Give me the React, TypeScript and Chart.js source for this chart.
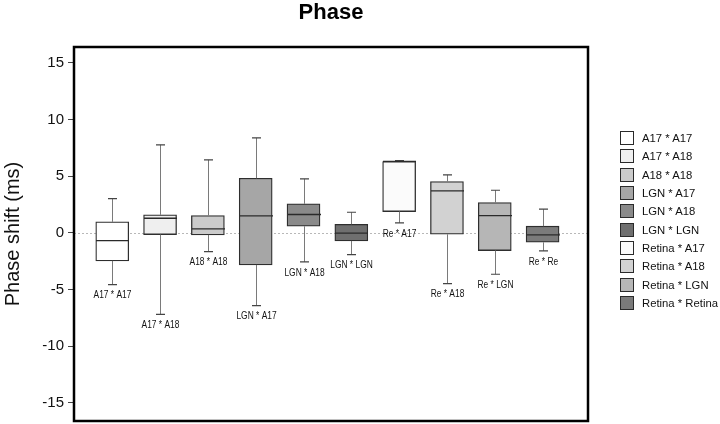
import React, { useEffect, useRef } from 'react';
import { Chart, registerables } from 'chart.js';

Chart.register(...registerables);

const legendLabels = ['A17 * A17', 'A17 * A18', 'A18 * A18', 'LGN * A17', 'LGN * A18', 'LGN * LGN', 'Retina * A17', 'Retina * A18', 'Retina * LGN', 'Retina * Retina'];
const boxLabels = ['A17 * A17', 'A17 * A18', 'A18 * A18', 'LGN * A17', 'LGN * A18', 'LGN * LGN', 'Re * A17', 'Re * A18', 'Re * LGN', 'Re * Re'];
const whiskerLow = [-4.56, -7.2, -1.65, -6.42, -2.56, -1.92, 0.88, -4.47, -3.65, -1.59];
const q1 = [-2.47, -0.15, -0.18, -2.83, 0.59, -0.71, 1.88, -0.12, -1.56, -0.83];
const median = [-0.68, 1.29, 0.35, 1.5, 1.62, -0.03, 6.3, 3.7, 1.53, -0.18];
const q3 = [0.97, 1.59, 1.53, 4.82, 2.56, 0.76, 6.3, 4.53, 2.67, 0.59];
const whiskerHigh = [3.03, 7.77, 6.44, 8.38, 4.76, 1.82, 6.38, 5.12, 3.76, 2.09];
const yTicks = [-15, -10, -5, 0, 5, 10, 15];
const fills = ['#ffffff', '#efefef', '#cbcbcb', '#a6a6a6', '#8a8a8a', '#6f6f6f', '#fbfbfb', '#d2d2d2', '#b6b6b6', '#7b7b7b'];

const FONT = '"Liberation Sans", Arial, Helvetica, sans-serif';

const boxPlugin = {
  id: 'boxExtras',
  beforeDatasetsDraw(chart: any) {
    const { ctx, chartArea, scales } = chart;
    const y0 = scales.y.getPixelForValue(0);
    ctx.save();
    ctx.strokeStyle = '#b8b8b8';
    ctx.lineWidth = 1;
    ctx.setLineDash([2, 2]);
    ctx.beginPath();
    ctx.moveTo(chartArea.left, Math.round(y0) + 0.5);
    ctx.lineTo(chartArea.right, Math.round(y0) + 0.5);
    ctx.stroke();
    ctx.restore();
  },
  afterDatasetsDraw(chart: any) {
    const { ctx, scales } = chart;
    const xs = scales.x;
    const ys = scales.y;
    ctx.save();
    boxLabels.forEach((lab, i) => {
      const x = Math.round(xs.getPixelForValue(i)) + 0.5;
      const half = 16.5;
      const pHi = ys.getPixelForValue(whiskerHigh[i]);
      const pLo = ys.getPixelForValue(whiskerLow[i]);
      const pQ1 = ys.getPixelForValue(q1[i]);
      const pQ3 = ys.getPixelForValue(q3[i]);
      const pMed = ys.getPixelForValue(median[i]);
      ctx.strokeStyle = '#7a7a7a';
      ctx.lineWidth = 1;
      ctx.beginPath();
      ctx.moveTo(x, pQ3);
      ctx.lineTo(x, pHi);
      ctx.moveTo(x, pQ1);
      ctx.lineTo(x, pLo);
      ctx.stroke();
      ctx.strokeStyle = '#444';
      ctx.lineWidth = 1.2;
      ctx.beginPath();
      ctx.moveTo(x - 4.5, pHi);
      ctx.lineTo(x + 4.5, pHi);
      ctx.moveTo(x - 4.5, pLo);
      ctx.lineTo(x + 4.5, pLo);
      ctx.stroke();
      ctx.strokeStyle = '#2a2a2a';
      ctx.lineWidth = 1.3;
      ctx.beginPath();
      ctx.moveTo(x - half, pMed);
      ctx.lineTo(x + half, pMed);
      ctx.stroke();
      ctx.save();
      ctx.fillStyle = '#111';
      ctx.font = '10px ' + FONT;
      ctx.textAlign = 'center';
      ctx.textBaseline = 'top';
      ctx.translate(x, pLo + 6);
      ctx.scale(0.84, 1);
      ctx.fillText(lab, 0, 0);
      ctx.restore();
    });
    ctx.restore();
  },
  afterDraw(chart: any) {
    const { ctx, chartArea } = chart;
    ctx.save();
    ctx.strokeStyle = '#000';
    ctx.lineWidth = 2.5;
    ctx.strokeRect(chartArea.left, chartArea.top, chartArea.right - chartArea.left, chartArea.bottom - chartArea.top);
    ctx.restore();
  },
};

export default function App() {
  const ref = useRef<HTMLCanvasElement | null>(null);

  useEffect(() => {
    document.body.style.margin = '0';
    if (!ref.current) return;
    const chart = new Chart(ref.current, {
      type: 'bar',
      data: {
        datasets: [
          {
            data: q1.map((v, i) => ({ x: i, y: [v, q3[i]] })) as any,
            backgroundColor: fills,
            borderColor: '#2e2e2e',
            borderWidth: 1.3,
            borderSkipped: false,
            barThickness: 33,
          } as any,
        ],
      },
      options: {
        animation: false,
        responsive: false,
        maintainAspectRatio: false,
        layout: { padding: { left: 0, right: 132, top: 0, bottom: 3 } },
        plugins: {
          legend: { display: false },
          tooltip: { enabled: false },
          title: {
            display: true,
            text: 'Phase',
            fullSize: false,
            color: '#000',
            font: { family: FONT, size: 22, weight: 'bold' },
            padding: { top: 0, bottom: 20.6 },
          },
        },
        scales: {
          x: {
            type: 'linear',
            min: -0.8,
            max: 9.95,
            offset: false,
            display: false,
          },
          y: {
            min: -16.6,
            max: 16.4,
            afterBuildTicks: (axis: any) => {
              axis.ticks = yTicks.map((v) => ({ value: v }));
            },
            afterFit: (scale: any) => {
              scale.width = 74;
              scale.paddingTop = 0;
              scale.paddingBottom = 0;
            },
            border: { display: false },
            grid: {
              drawOnChartArea: false,
              drawTicks: true,
              tickLength: 6,
              tickColor: '#444',
              tickWidth: 1,
            },
            ticks: {
              color: '#111',
              padding: 4,
              font: { family: FONT, size: 15 },
            },
            title: {
              display: true,
              text: 'Phase shift (ms)',
              color: '#111',
              font: { family: FONT, size: 20 },
              padding: { top: 1, bottom: 2 },
            },
          },
        },
      },
      plugins: [boxPlugin],
    });
    return () => chart.destroy();
  }, []);

  return (
    <div style={{ position: 'absolute', left: 0, top: 0, width: 720, height: 424 }}>
      <canvas ref={ref} width={720} height={424} style={{ width: 720, height: 424 }} />
      <div style={{ position: 'absolute', left: 620, top: 129, fontFamily: FONT, fontSize: 11.3, color: '#111' }}>
        {legendLabels.map((lab, i) => (
          <div key={lab} style={{ display: 'flex', alignItems: 'center', height: 18.3 }}>
            <span
              style={{
                display: 'inline-block',
                width: 12,
                height: 12,
                background: fills[i],
                border: '1.5px solid #2a2a2a',
                marginRight: 8,
              }}
            />
            <span style={{ whiteSpace: 'nowrap' }}>{lab}</span>
          </div>
        ))}
      </div>
    </div>
  );
}
